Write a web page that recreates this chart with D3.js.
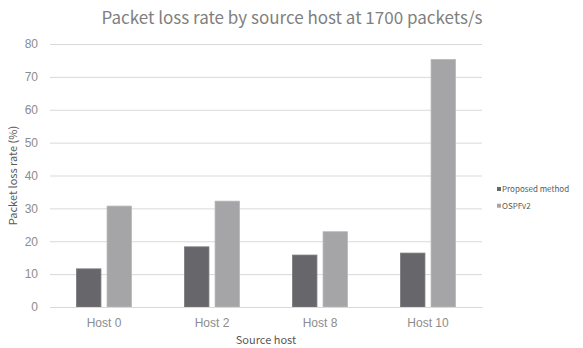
<!DOCTYPE html>
<html>
<head>
<meta charset="utf-8">
<script src="https://cdn.jsdelivr.net/npm/d3@7"></script>
<style>
  body { margin: 0; background: #fff; }
  svg { font-family: "Noto Sans CJK JP", "Noto Sans", sans-serif; }
</style>
</head>
<body>
<script>
const hosts = ['Host 0', 'Host 2', 'Host 8', 'Host 10']
const seriesNames = ['Proposed method', 'OSPFv2']
const proposed = [11.6, 18.3, 15.8, 16.4]
const ospf = [30.7, 32.2, 22.9, 75.3]
const yTicks = [0, 10, 20, 30, 40, 50, 60, 70, 80]

const colors = ['#67676b', '#a5a5a7']

const w = 583
const h = 348
const margin = { top: 44, bottom: 41, left: 50, right: 101 }

const svg = d3.select('body')
  .append('svg')
  .attr('width', w)
  .attr('height', h)

const data = hosts.map((d, i) => ({ host: d, values: [proposed[i], ospf[i]] }))

// scales
const x0 = d3.scaleBand()
  .domain(hosts)
  .range([margin.left, w - margin.right])
  .paddingInner(0.49)
  .paddingOuter(0.245)

const x1 = d3.scaleBand()
  .domain(seriesNames)
  .range([0, x0.bandwidth()])
  .paddingInner(0.2)

const y = d3.scaleLinear()
  .domain([0, 80])
  .range([h - margin.bottom, margin.top])

// gridlines + y labels
const yAxis = d3.axisLeft(y)
  .tickValues(yTicks)
  .tickSize(-(w - margin.left - margin.right))
  .tickPadding(12)

svg.append('g')
  .attr('transform', `translate(${margin.left},0)`)
  .call(yAxis)
  .call(g => g.select('.domain').remove())
  .call(g => g.selectAll('line').attr('stroke', '#d9d9d9'))
  .call(g => g.selectAll('text')
    .attr('fill', '#8c8c8c')
    .style('font-size', '12px'))

// bars
svg.selectAll('g.group')
  .data(data)
  .enter()
  .append('g')
  .attr('class', 'group')
  .attr('transform', d => `translate(${x0(d.host)},0)`)
  .selectAll('rect')
  .data(d => d.values.map((v, i) => ({ key: seriesNames[i], value: v, i: i })))
  .enter()
  .append('rect')
  .attr('x', d => x1(d.key))
  .attr('width', x1.bandwidth())
  .attr('y', d => y(d.value))
  .attr('height', d => y(0) - y(d.value))
  .attr('fill', d => colors[d.i])
  .attr('stroke', d => d.i === 0 ? '#7a7a7e' : '#b8b8ba')
  .attr('stroke-width', 0.8)

// x axis
const xAxis = d3.axisBottom(x0).tickSize(0).tickPadding(11)

svg.append('g')
  .attr('transform', `translate(0,${y(0)})`)
  .call(xAxis)
  .call(g => g.select('.domain').attr('stroke', '#d9d9d9'))
  .call(g => g.selectAll('text')
    .attr('fill', '#8c8c8c')
    .style('font-size', '12px'))

// titles
svg.append('text')
  .attr('x', 292)
  .attr('y', 24)
  .attr('text-anchor', 'middle')
  .attr('fill', '#7f7f7f')
  .style('font-size', '17px')
  .text('Packet loss rate by source host at 1700 packets/s')

svg.append('text')
  .attr('x', (margin.left + w - margin.right) / 2)
  .attr('y', 344)
  .attr('text-anchor', 'middle')
  .attr('fill', '#595959')
  .style('font-size', '11px')
  .text('Source host')

svg.append('text')
  .attr('transform', `translate(17,${(y(0) + y(80)) / 2}) rotate(-90)`)
  .attr('text-anchor', 'middle')
  .attr('fill', '#595959')
  .style('font-size', '11px')
  .text('Packet loss rate (%)')

// legend
const legend = svg.selectAll('g.legend')
  .data(seriesNames)
  .enter()
  .append('g')
  .attr('class', 'legend')
  .attr('transform', (d, i) => `translate(497,${189 + i * 16.7})`)

legend.append('rect')
  .attr('x', 0)
  .attr('y', -2)
  .attr('width', 4)
  .attr('height', 4)
  .attr('fill', (d, i) => colors[i])

legend.append('text')
  .attr('x', 5)
  .attr('y', 0)
  .attr('dy', '0.35em')
  .attr('fill', '#595959')
  .style('font-size', '8px')
  .text(d => d)
</script>
</body>
</html>
